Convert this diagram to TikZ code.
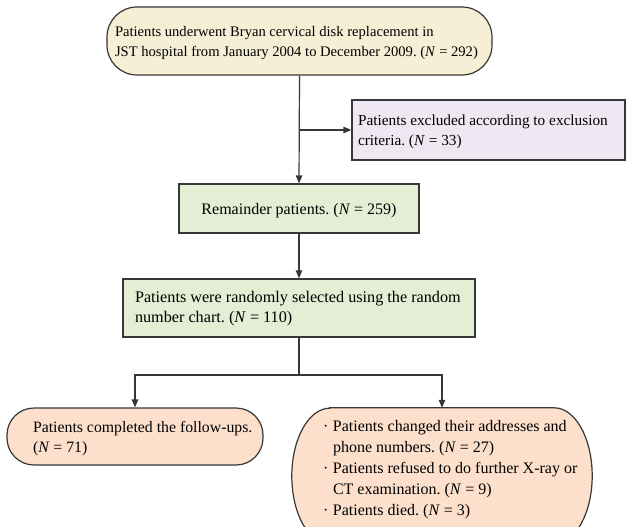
\documentclass[tikz,border=0pt]{standalone}
\usepackage{fontspec}
\setmainfont{Liberation Serif}
\usetikzlibrary{arrows.meta,backgrounds,calc}
\definecolor{cTop}{RGB}{247,238,214}
\definecolor{cExc}{RGB}{238,232,243}
\definecolor{cGreen}{RGB}{227,238,213}
\definecolor{cPeach}{RGB}{252,224,204}
\definecolor{cLine}{RGB}{55,55,55}
% #1: first baseline below node centre, #2: text block width, #3: lines
\newcommand{\boxtext}[3]{\raisebox{-#1}[0pt][0pt]{\parbox[t]{#2}{\raggedright #3}}}
\frenchspacing
\begin{document}
\begin{tikzpicture}[x=1pt,y=-1pt,
  box/.style={draw=cLine, line width=1.2pt, inner ysep=0pt},
  conn/.style={draw=cLine, line width=1.2pt},
  arr/.style={conn, -{Triangle[length=8pt,width=6.5pt]}},
  fs/.style={font=\fontsize{#1}{20}\selectfont}]
\useasboundingbox (0,0) rectangle (626,527);
\clip (0,0) rectangle (626,527);

\node[box, fill=cTop, rounded corners=30pt, inner xsep=8pt,
      minimum width=385pt, minimum height=68pt, fs=14.6] (top) at (299.5,41)
  {\boxtext{-4pt}{369pt}{\mbox{Patients underwent Bryan cervical disk replacement in}\\
   \mbox{JST hospital from January 2004 to December 2009. (\textit{N} = 292)}}};

\node[box, fill=cExc, inner xsep=6pt,
      minimum width=273pt, minimum height=60pt, fs=15.3] (excl) at (488.5,130)
  {\boxtext{-5pt}{261pt}{\mbox{Patients excluded according to exclusion}\\
   \mbox{criteria. (\textit{N} = 33)}}};

\node[box, fill=cGreen, inner xsep=0pt,
      minimum width=240pt, minimum height=49pt, fs=16.0] (rem) at (299,208.5)
  {\boxtext{5.5pt}{240pt}{\centering Remainder patients. (\textit{N} = 259)}};

\node[box, fill=cGreen, inner xsep=12pt,
      minimum width=352pt, minimum height=58pt, fs=16.2] (rand) at (299,308)
  {\boxtext{-6pt}{328pt}{\mbox{Patients were randomly selected using the random}\\
   \mbox{number chart. (\textit{N} = 110)}}};

\node[box, fill=cPeach, rounded corners=27pt, inner xsep=26pt,
      minimum width=256pt, minimum height=57pt, fs=15.8] (done) at (135,436.5)
  {\boxtext{-4.5pt}{204pt}{\mbox{Patients completed the follow-ups.}\\
   \mbox{(\textit{N} = 71)}}};

\node[inner xsep=31pt, inner ysep=0pt,
      minimum width=300pt, minimum height=136pt,
      font=\fontsize{16.0}{21}\selectfont] (lost) at (442,476)
  {\boxtext{-44.5pt}{238pt}{\makebox[10pt][l]{·}\mbox{Patients changed their addresses and}\\
   \hspace*{10pt}\mbox{phone numbers. (\textit{N} = 27)}\\
   \makebox[10pt][l]{·}\mbox{Patients refused to do further X-ray or}\\
   \hspace*{10pt}\mbox{CT examination. (\textit{N} = 9)}\\
   \makebox[10pt][l]{·}\mbox{Patients died. (\textit{N} = 3)}}};

\begin{pgfonlayer}{background}
  \draw[conn, fill=cPeach]
    ($(lost.north west)+(38,0)$) -- ($(lost.north east)+(-38,0)$)
    arc[start angle=90, end angle=-90, x radius=38pt, y radius=68pt]
    -- ($(lost.south west)+(38,0)$)
    arc[start angle=270, end angle=90, x radius=38pt, y radius=68pt]
    -- cycle;
\end{pgfonlayer}

\coordinate (split) at (rand.south |- 0,375);
\draw[arr] (top.south) -- (rem.north);
\draw[arr] (top.south |- excl.west) -- (excl.west);
\draw[arr] (rem.south) -- (rand.north);
\draw[conn] (rand.south) -- (split);
\draw[arr] (split) -| (done.north);
\draw[arr] (split) -| (lost.north);
\end{tikzpicture}
\end{document}
